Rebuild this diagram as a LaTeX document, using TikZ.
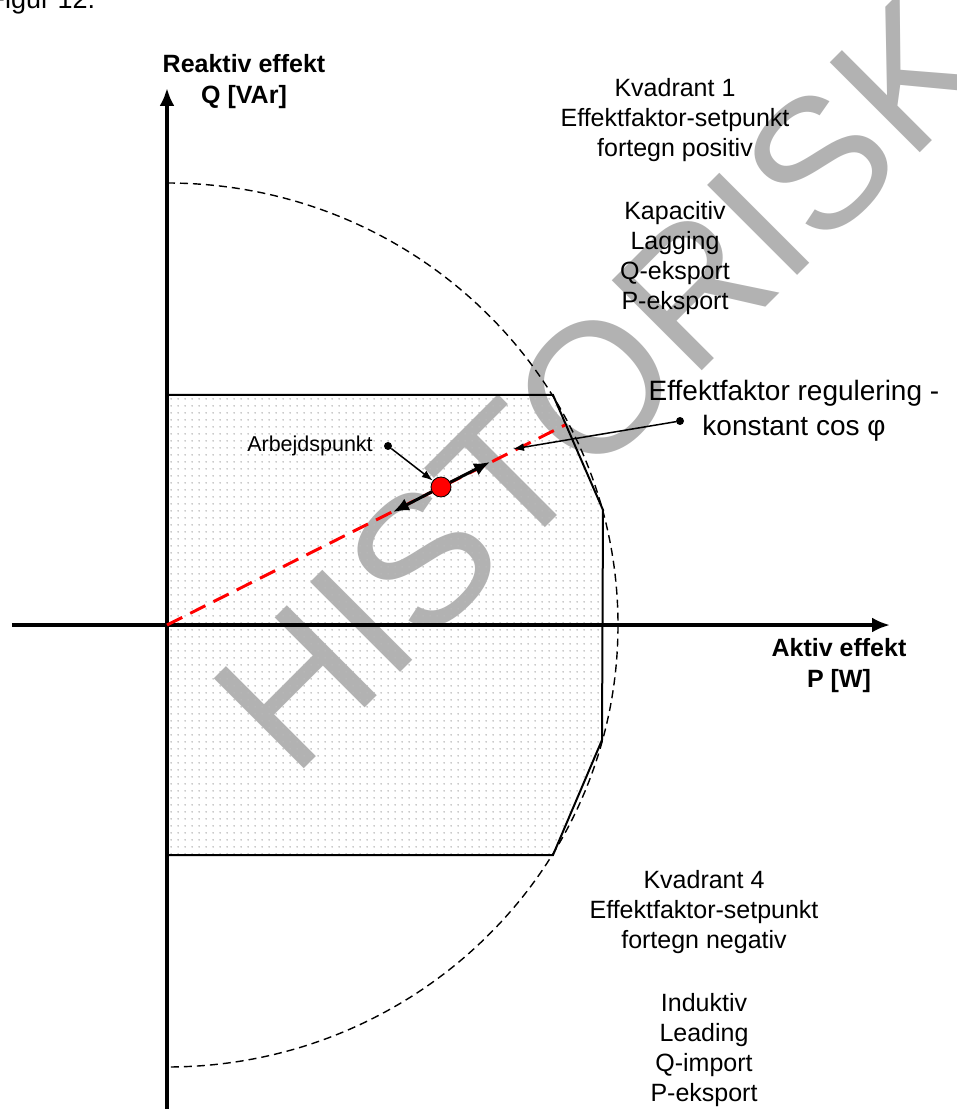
\documentclass[tikz,border=0pt]{standalone}
\usepackage{fontspec}
\setmainfont{Liberation Sans}
\usepackage{tikz}
\usetikzlibrary{arrows.meta,patterns.meta,positioning}

\tikzdeclarepattern{
  name=griddots,
  type=uncolored,
  bounding box={(0,0) and (7pt,7pt)},
  tile size={(7pt,7pt)},
  code={\fill (3.5pt,3.5pt) circle (1pt);}
}

\begin{document}
\begin{tikzpicture}[x=1pt,y=1pt,
    axis/.style={line width=3.5pt,-{Latex[length=18pt,width=15pt]}},
    limit/.style={line width=2pt,line join=miter},
    txt/.style={font=\fontsize{25}{30}\selectfont,align=center},
    axlabel/.style={font=\bfseries\fontsize{25}{31}\selectfont,align=center},
    pin/.style={line width=1.5pt,-{Latex[length=11pt,width=8pt]}},
    pindot/.style={circle,fill=black,inner sep=0pt,minimum size=8pt},
    move/.style={line width=3pt,-{Latex[length=16pt,width=13pt]}}]

	\useasboundingbox (-167,-484) rectangle (790,625);

	% watermark
	\node[rotate=45,text=black!30,font=\fontsize{185}{185}\selectfont] (stamp) at (433,242) {HISTORISK};

	% working area
	\fill[pattern={griddots},pattern color=black!28] (0,230) -- (386,230) -- (436,115) -- (435,-115) -- (386,-230) -- (0,-230) -- cycle;
	\draw[limit] (0,230) -- (386,230) -- (436,115) -- (435,-115) -- (386,-230) -- (0,-230);

	% S max
	\draw[line width=1.4pt,dash pattern=on 8pt off 5pt] (0,442) arc[start angle=90,end angle=-90,x radius=451,y radius=442];

	% axes
	\coordinate (origo) at (0,0);
	\draw[axis] (-155,0) -- (723,0);
	\draw[axis] (0,-484) -- (0,537);
	\node[axlabel] (qlabel) at (77,543) {Reaktiv effekt\\Q [VAr]};
	\node[axlabel] (plabel) at (672,-41) {Aktiv effekt\\P [W]};

	\node[font=\fontsize{27}{32}\selectfont,anchor=base west] (figref) at (-182,616) {Figur 12.};

	% cos phi line
	\coordinate (pfend) at (398,200);
	\draw[red,line width=3pt,dash pattern=on 17pt off 9pt] (origo) -- (pfend);

	\node[circle,fill=red,draw=black,line width=0.8pt,minimum size=20pt,inner sep=0pt] (ap) at (274,138) {};
	\coordinate (aplow) at (226,113);
	\coordinate (aphigh) at (323,163);
	\draw[move] (ap) -- (aplow);
	\draw[move] (ap) -- (aphigh);

	\node[font=\fontsize{21.5}{26}\selectfont] (aplabel) at (143,179) {Arbejdspunkt};
	\node[pindot] (apdot) at (221,179) {};
	\draw[pin] (apdot) -- (ap);

	\node[font=\fontsize{28}{35}\selectfont,align=center] (pflabel) at (627,214.5) {Effektfaktor regulering -\\konstant cos φ};
	\node[pindot] (pfdot) at (513,204) {};
	\coordinate (pfhit) at (346,176);
	\draw[pin] (pfdot) -- (pfhit);

	% quadrants
	\node[txt] (q1) at (508,428) {Kvadrant 1\\Effektfaktor-setpunkt\\fortegn positiv\\[33pt]Kapacitiv\\Lagging\\Q-eksport\\P-eksport};
	\node[txt] (q4) at (537,-364) {Kvadrant 4\\Effektfaktor-setpunkt\\fortegn negativ\\[33pt]Induktiv\\Leading\\Q-import\\P-eksport};

\end{tikzpicture}
\end{document}
